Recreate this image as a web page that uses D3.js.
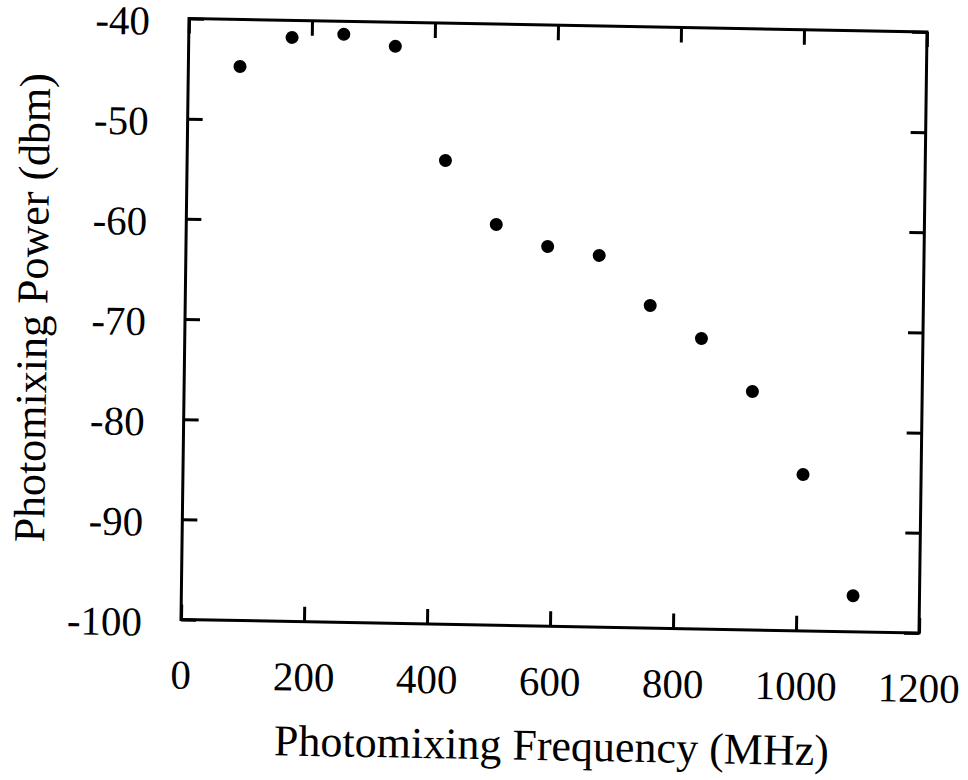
<!DOCTYPE html>
<html>
<head>
<meta charset="utf-8">
<script src="https://cdn.jsdelivr.net/npm/d3@7"></script>
<style>
  html, body { margin: 0; padding: 0; background: #fff; }
  svg { display: block; }
</style>
</head>
<body>
<div id="chart"></div>
<script>
// Données
const frequency = [84, 168, 252, 336, 420, 504, 588, 672, 756, 840, 924, 1008, 1092];
const power = [-44.7, -41.7, -41.3, -42.4, -53.7, -60.0, -62.1, -62.9, -67.8, -71.0, -76.2, -84.4, -96.4];
const xTicks = [0, 200, 400, 600, 800, 1000, 1200];
const yTicks = [-100, -90, -80, -70, -60, -50, -40];
const xTitle = "Photomixing Frequency (MHz)";
const yTitle = "Photomixing Power (dbm)";

const data = frequency.map((f, i) => ({ f: f, p: power[i] }));

//---------------------------------------------------------------------------------------

// Canevas
const width = 968;
const height = 780;
const plotW = 738;
const plotH = 601;
const tick = 15;
const font = "'Liberation Serif', 'Times New Roman', serif";

const svg = d3
  .select("#chart")
  .append("svg")
  .attr("width", width)
  .attr("height", height);

// la figure scannée est légèrement de travers : petite transformation affine
const svgPlot = svg
  .append("g")
  .attr("transform", "matrix(1, 0.0183, -0.0133, 1, 189, 18.5)");

//---------------------------------------------------------------------------------------

// Échelles
const scaleX = d3.scaleLinear().domain([0, 1200]).range([0, plotW]);
const scaleY = d3.scaleLinear().domain([-100, -40]).range([plotH, 0]);

//---------------------------------------------------------------------------------------

// Axes (graduations vers l'intérieur)
const styleAxis = (g) => {
  g.select(".domain").remove();
  g.selectAll(".tick line").attr("stroke", "#000").attr("stroke-width", 3);
  g.selectAll("text")
    .attr("fill", "#000")
    .style("font-family", font)
    .style("font-size", "41px");
};

svgPlot
  .append("g")
  .attr("transform", `translate(0, ${plotH})`)
  .call(d3.axisBottom(scaleX).tickValues(xTicks).tickSizeInner(-tick).tickSizeOuter(0)
    .tickPadding(40).tickFormat((d) => d.toString()))
  .call(styleAxis);

svgPlot
  .append("g")
  .call(d3.axisTop(scaleX).tickValues(xTicks).tickSizeInner(-tick).tickSizeOuter(0).tickFormat(""))
  .call(styleAxis);

svgPlot
  .append("g")
  .call(d3.axisLeft(scaleY).tickValues(yTicks).tickSizeInner(-tick).tickSizeOuter(0)
    .tickPadding(39).tickFormat((d) => d.toString()))
  .call(styleAxis)
  .call((g) => g.selectAll("text").attr("dy", "0.4em")); // léger décalage vers le bas comme sur l'original

svgPlot
  .append("g")
  .attr("transform", `translate(${plotW}, 0)`)
  .call(d3.axisRight(scaleY).tickValues(yTicks).tickSizeInner(-tick).tickSizeOuter(0).tickFormat(""))
  .call(styleAxis);

// Cadre
svgPlot
  .append("rect")
  .attr("width", plotW)
  .attr("height", plotH)
  .attr("fill", "none")
  .attr("stroke", "#000")
  .attr("stroke-width", 3);

//---------------------------------------------------------------------------------------

// Points
svgPlot
  .selectAll("circle")
  .data(data)
  .join("circle")
  .attr("cx", (d) => scaleX(d.f))
  .attr("cy", (d) => scaleY(d.p))
  .attr("r", 6.5)
  .attr("fill", "#000");

//---------------------------------------------------------------------------------------

// Titres des axes
svgPlot
  .append("text")
  .attr("x", 372)
  .attr("y", 735)
  .attr("text-anchor", "middle")
  .style("font-family", font)
  .style("font-size", "44px")
  .text(xTitle);

svgPlot
  .append("text")
  .attr("transform", "translate(-138, 292) rotate(-90)")
  .attr("text-anchor", "middle")
  .style("font-family", font)
  .style("font-size", "44px")
  .text(yTitle);
</script>
</body>
</html>
